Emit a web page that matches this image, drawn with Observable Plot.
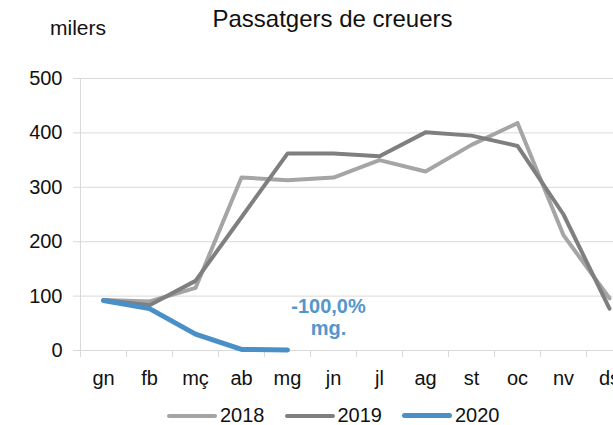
<!DOCTYPE html>
<html>
<head>
<meta charset="utf-8">
<script src="https://cdn.jsdelivr.net/npm/d3@7"></script>
<script src="https://cdn.jsdelivr.net/npm/@observablehq/plot@0.6"></script>
<style>
  html, body { margin: 0; padding: 0; background: #fff; }
  #wrap { position: relative; width: 613px; height: 425px; overflow: hidden; font-family: "Liberation Sans", Arial, sans-serif; color: #111; }
  #chart { position: absolute; left: 0; top: 0; width: 632px; height: 425px; }
  #chart svg { max-width: none !important; }
  #title { position: absolute; left: 0; width: 665px; top: 5px; text-align: center; font-size: 24px; line-height: 28px; }
  #unit { position: absolute; left: 50px; top: 16px; font-size: 21px; }
  #legend { position: absolute; left: 167px; top: 407px; display: flex; align-items: center; font-size: 20px; line-height: 17px; }
  #legend .item { display: flex; align-items: center; margin-right: 20px; }
  #legend .sw { width: 50px; margin-right: 3px; border-radius: 3px; }
</style>
</head>
<body>
<div id="wrap">
  <div id="chart"></div>
  <div id="title">Passatgers de creuers</div>
  <div id="unit">milers</div>
  <div id="legend"></div>
</div>
<script>
const months = ["gn","fb","mç","ab","mg","jn","jl","ag","st","oc","nv","ds"];
const v2018 = [93, 90, 115, 318, 313, 318, 350, 329, 378, 418, 212, 96];
const v2019 = [93, 83, 128, 245, 362, 362, 357, 401, 395, 376, 250, 77];
const v2020 = [92, 77, 30, 2, 1];
const yTicks = [0, 100, 200, 300, 400, 500];
const seriesNames = ["2018", "2019", "2020"];
const seriesColors = ["#a5a5a5", "#7f7f7f", "#4a90c8"];
const seriesWidths = [4, 4, 5];
const annotation = "-100,0%\nmg.";

const toRows = vals => vals.map((v, i) => ({i, v, m: months[i]}));
const boundaries = d3.range(months.length + 1).map(k => k - 0.5);

const chart = Plot.plot({
  width: 632,
  height: 425,
  marginLeft: 80,
  marginRight: 0,
  marginTop: 78,
  marginBottom: 75,
  style: {fontFamily: "Liberation Sans, Arial, sans-serif", fontSize: "20px", color: "#111", background: "transparent", maxWidth: "none"},
  x: {type: "linear", domain: [-0.5, months.length - 0.5]},
  y: {domain: [0, 500]},
  marks: [
    Plot.gridY(yTicks, {stroke: "#d9d9d9", strokeOpacity: 1, strokeWidth: 1}),
    Plot.axisY({ticks: yTicks, tickSize: 7, tickPadding: 11, stroke: "#d9d9d9", fill: "#111", label: null, fontSize: 20}),
    Plot.ruleX([-0.5], {stroke: "#d9d9d9"}),
    Plot.axisX({ticks: boundaries, tickSize: 7, tickFormat: () => "", stroke: "#d9d9d9", label: null}),
    Plot.axisX({ticks: d3.range(months.length), tickSize: 0, tickPadding: 20, tickFormat: i => months[i], fill: "#111", label: null, fontSize: 20}),
    Plot.ruleY([0], {stroke: "#d9d9d9"}),
    Plot.line(toRows(v2018), {x: "i", y: "v", stroke: seriesColors[0], strokeWidth: seriesWidths[0], strokeLinejoin: "round", strokeLinecap: "round"}),
    Plot.line(toRows(v2019), {x: "i", y: "v", stroke: seriesColors[1], strokeWidth: seriesWidths[1], strokeLinejoin: "round", strokeLinecap: "round"}),
    Plot.line(toRows(v2020), {x: "i", y: "v", stroke: seriesColors[2], strokeWidth: seriesWidths[2], strokeLinejoin: "round", strokeLinecap: "round"}),
    Plot.text([annotation], {x: 5, y: 61, dx: -5, text: d => d, fill: "#5496cc", fontWeight: "bold", fontSize: 20, lineHeight: 1.1})
  ]
});
chart.style.maxWidth = "none";
document.getElementById("chart").appendChild(chart);

const legend = document.getElementById("legend");
seriesNames.forEach((name, k) => {
  const item = document.createElement("div");
  item.className = "item";
  const sw = document.createElement("div");
  sw.className = "sw";
  sw.style.height = seriesWidths[k] + "px";
  sw.style.background = seriesColors[k];
  const t = document.createElement("span");
  t.textContent = name;
  item.appendChild(sw);
  item.appendChild(t);
  legend.appendChild(item);
});
</script>
</body>
</html>
